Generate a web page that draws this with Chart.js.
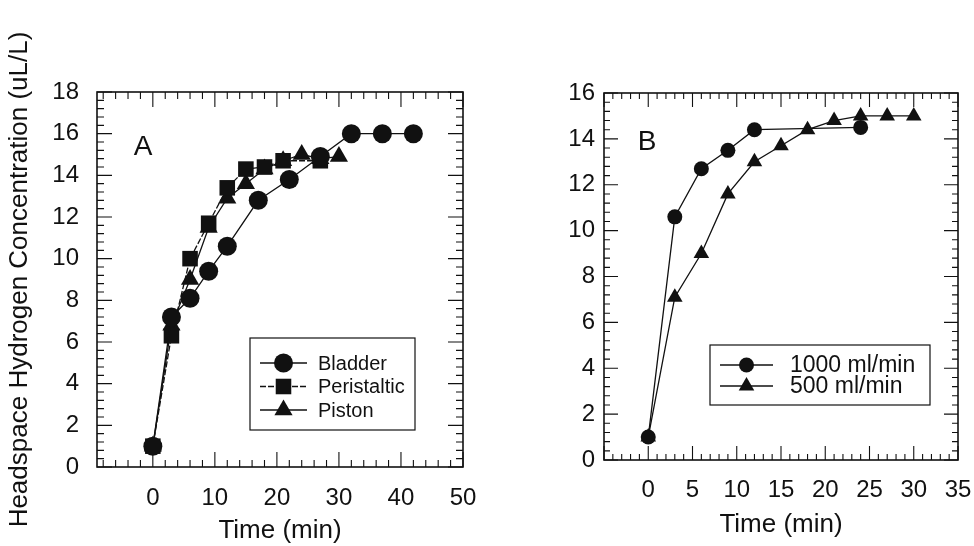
<!DOCTYPE html>
<html>
<head>
<meta charset="utf-8">
<script src="https://cdn.jsdelivr.net/npm/chart.js@4/dist/chart.umd.min.js"></script>
<style>
  body { margin: 0; background: #fff; }
  #wrap { position: relative; width: 974px; height: 546px; }
  canvas { position: absolute; top: 0; }
  #chartA { left: 0; }
  #chartB { left: 490px; }
</style>
</head>
<body>
<div id="wrap">
  <canvas id="chartA" width="480" height="546"></canvas>
  <canvas id="chartB" width="484" height="546"></canvas>
</div>
<script>
// panel A
const timeBladder = [0, 3, 6, 9, 12, 17, 22, 27, 32, 37, 42]
const bladder = [1.0, 7.2, 8.1, 9.4, 10.6, 12.8, 13.8, 14.9, 16.0, 16.0, 16.0]
const timePeristaltic = [0, 3, 6, 9, 12, 15, 18, 21, 27]
const peristaltic = [1.0, 6.3, 10.0, 11.7, 13.4, 14.3, 14.4, 14.7, 14.7]
const timePiston = [0, 3, 6, 9, 12, 15, 18, 21, 24, 27, 30]
const piston = [1.0, 6.8, 9.0, 11.5, 12.9, 13.6, 14.3, 14.7, 15.0, 14.8, 14.9]
const xTicksA = [0, 10, 20, 30, 40, 50]
const yTicksA = [0, 2, 4, 6, 8, 10, 12, 14, 16, 18]

// panel B
const time1000 = [0, 3, 6, 9, 12, 24]
const flow1000 = [1.0, 10.6, 12.7, 13.5, 14.4, 14.5]
const time500 = [0, 3, 6, 9, 12, 15, 18, 21, 24, 27, 30]
const flow500 = [1.0, 7.1, 9.0, 11.6, 13.0, 13.7, 14.4, 14.8, 15.0, 15.0, 15.0]
const xTicksB = [0, 5, 10, 15, 20, 25, 30, 35]
const yTicksB = [0, 2, 4, 6, 8, 10, 12, 14, 16]

const FONT = "'Liberation Sans', Arial, sans-serif"
const INK = '#111'
Chart.defaults.color = INK
Chart.defaults.font.family = FONT

const toPoints = (xs, ys) => xs.map((x, i) => ({ x: x, y: ys[i] }))

// draw one marker shape
const drawMarker = (ctx, style, r, x, y) => {
  ctx.beginPath()
  if (style === 'circle') {
    ctx.arc(x, y, r, 0, Math.PI * 2)
  } else if (style === 'rect') {
    const s = Math.SQRT1_2 * r
    ctx.rect(x - s, y - s, 2 * s, 2 * s)
  } else {
    for (let k = 0; k < 3; k++) {
      const a = k * Math.PI * 2 / 3
      const px = x + Math.sin(a) * r
      const py = y - Math.cos(a) * r
      if (k === 0) ctx.moveTo(px, py); else ctx.lineTo(px, py)
    }
    ctx.closePath()
  }
  ctx.fill()
}

// box frame with inward minor/major ticks on all four sides
const frameTicks = {
  id: 'frameTicks',
  beforeDatasetsDraw(chart, args, opts) {
    const { ctx, chartArea: a, scales: { x, y } } = chart
    ctx.save()
    ctx.strokeStyle = INK
    ctx.lineWidth = 1.6
    ctx.strokeRect(a.left, a.top, a.right - a.left, a.bottom - a.top)
    ctx.lineWidth = 1.1
    ctx.beginPath()
    const start = Math.ceil(x.min / opts.xMinor - 1e-6)
    for (let i = start; i * opts.xMinor <= x.max + 1e-6; i++) {
      const v = i * opts.xMinor
      const px = x.getPixelForValue(v)
      const major = Math.abs(v / opts.xMajor - Math.round(v / opts.xMajor)) < 1e-6
      const len = major ? opts.major : opts.minor
      ctx.moveTo(px, a.bottom); ctx.lineTo(px, a.bottom - len)
      ctx.moveTo(px, a.top); ctx.lineTo(px, a.top + len)
    }
    for (let i = 0; i * opts.yMinor <= y.max + 1e-6; i++) {
      const v = i * opts.yMinor
      const py = y.getPixelForValue(v)
      const major = Math.abs(v / opts.yMajor - Math.round(v / opts.yMajor)) < 1e-6
      const len = major ? opts.major : opts.minor
      ctx.moveTo(a.left, py); ctx.lineTo(a.left + len, py)
      ctx.moveTo(a.right, py); ctx.lineTo(a.right - len, py)
    }
    ctx.stroke()
    ctx.restore()
  }
}

// boxed legend + panel letter inside the plot
const boxLegend = {
  id: 'boxLegend',
  afterDraw(chart, args, opts) {
    const { ctx } = chart
    ctx.save()
    ctx.fillStyle = INK
    ctx.strokeStyle = INK
    ctx.font = opts.letterSize + 'px ' + FONT
    ctx.textAlign = 'center'
    ctx.textBaseline = 'middle'
    ctx.fillText(opts.letter, opts.letterX, opts.letterY)

    ctx.lineWidth = 1.2
    ctx.strokeRect(opts.x, opts.y, opts.w, opts.h)
    ctx.font = opts.fontSize + 'px ' + FONT
    ctx.textAlign = 'left'
    chart.data.datasets.forEach((ds, i) => {
      const cy = opts.rowY + i * opts.rowH
      ctx.setLineDash(ds.borderDash || [])
      ctx.lineWidth = ds.borderWidth
      ctx.beginPath()
      ctx.moveTo(opts.lineX, cy)
      ctx.lineTo(opts.lineX + opts.lineW, cy)
      ctx.stroke()
      ctx.setLineDash([])
      drawMarker(ctx, ds.pointStyle, ds.pointRadius, opts.lineX + opts.lineW / 2, cy)
      ctx.fillText(ds.label, opts.textX, cy + 1)
    })
    ctx.restore()
  }
}

const makeSet = (label, pts, style, r, dash) => ({
  label: label,
  data: pts,
  borderColor: INK,
  backgroundColor: INK,
  borderWidth: 1.3,
  borderDash: dash,
  pointStyle: style,
  pointRadius: r,
  pointBorderWidth: 0,
  pointBackgroundColor: INK,
  tension: 0
})

const buildChart = (canvas, cfg) => new Chart(canvas, {
  type: 'line',
  data: { datasets: cfg.datasets },
  options: {
    responsive: false,
    animation: false,
    layout: { padding: { left: 0, top: cfg.top, right: cfg.right, bottom: 0 } },
    plugins: {
      legend: { display: false },
      tooltip: { enabled: false },
      frameTicks: cfg.frame,
      boxLegend: cfg.legend
    },
    scales: {
      x: {
        type: 'linear',
        min: cfg.xMin,
        max: cfg.xMax,
        grid: { display: false, drawTicks: false },
        border: { display: false },
        ticks: { font: { size: 24 }, padding: cfg.xPad, maxRotation: 0 },
        afterBuildTicks: s => { s.ticks = cfg.xTicks.map(v => ({ value: v })) },
        afterFit: s => { s.height = cfg.xHeight; s.paddingLeft = 0; s.paddingRight = 0 },
        title: { display: true, text: 'Time (min)', font: { size: 26 }, padding: { top: 0, bottom: cfg.titlePad } }
      },
      y: {
        type: 'linear',
        min: 0,
        max: cfg.yMax,
        grid: { display: false, drawTicks: false },
        border: { display: false },
        ticks: { font: { size: 24 }, padding: cfg.yPad },
        afterBuildTicks: s => { s.ticks = cfg.yTicks.map(v => ({ value: v })) },
        afterFit: s => { s.width = cfg.yWidth; s.paddingTop = 0; s.paddingBottom = 0 },
        title: {
          display: cfg.yTitle !== '',
          text: cfg.yTitle,
          font: { size: 26 },
          padding: { top: 4, bottom: 0 }
        }
      }
    }
  },
  plugins: [frameTicks, boxLegend]
})

buildChart(document.getElementById('chartA'), {
  datasets: [
    makeSet('Bladder', toPoints(timeBladder, bladder), 'circle', 9.5, []),
    makeSet('Peristaltic', toPoints(timePeristaltic, peristaltic), 'rect', 11, [6, 2]),
    makeSet('Piston', toPoints(timePiston, piston), 'triangle', 10.5, [])
  ],
  top: 92, right: 17,
  xMin: -9, xMax: 50, xTicks: xTicksA, xHeight: 79, xPad: 17, titlePad: 0,
  yMax: 18, yTicks: yTicksA, yWidth: 97, yPad: 18,
  yTitle: 'Headspace Hydrogen Concentration (uL/L)',
  frame: { xMinor: 2, xMajor: 10, yMinor: 0.4, yMajor: 2, major: 15, minor: 7 },
  legend: {
    letter: 'A', letterX: 143, letterY: 147, letterSize: 28,
    x: 250, y: 338, w: 165, h: 92,
    rowY: 363, rowH: 23.5, lineX: 260, lineW: 47, textX: 318, fontSize: 20
  }
})

buildChart(document.getElementById('chartB'), {
  datasets: [
    makeSet('1000 ml/min', toPoints(time1000, flow1000), 'circle', 7.5, []),
    makeSet('500 ml/min', toPoints(time500, flow500), 'triangle', 9, [])
  ],
  top: 93, right: 16,
  xMin: -5, xMax: 35, xTicks: xTicksB, xHeight: 86, xPad: 16, titlePad: 6,
  yMax: 16, yTicks: yTicksB, yWidth: 114, yPad: 9,
  yTitle: '',
  frame: { xMinor: 1, xMajor: 5, yMinor: 0.4, yMajor: 2, major: 14, minor: 6 },
  legend: {
    letter: 'B', letterX: 157, letterY: 142, letterSize: 28,
    x: 220, y: 345, w: 220, h: 60,
    rowY: 365, rowH: 21, lineX: 230, lineW: 53, textX: 300, fontSize: 23
  }
})
</script>
</body>
</html>
